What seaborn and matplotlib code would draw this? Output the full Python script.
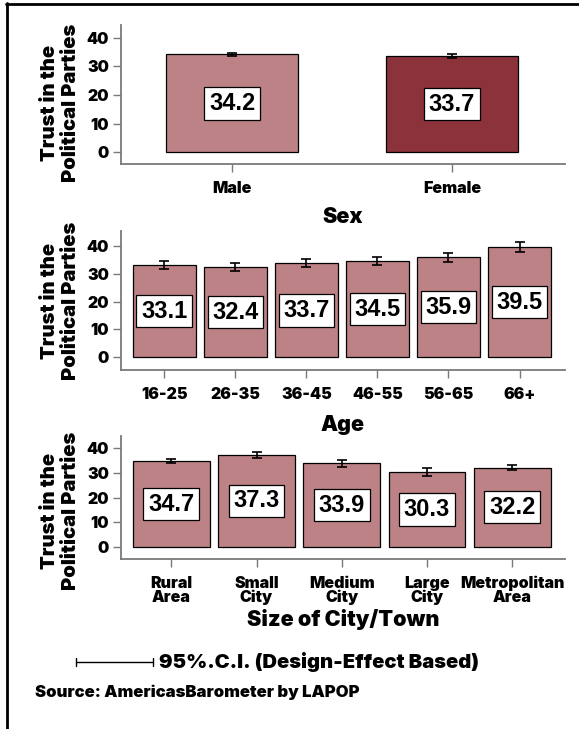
import matplotlib
matplotlib.use("Agg")
import matplotlib.pyplot as plt
from matplotlib import font_manager as fm
from matplotlib.lines import Line2D
import seaborn as sns
import pandas as pd

# Mean trust in political parties with 95% confidence half-widths
sex_labels = ["Male", "Female"]
sex_values = [34.2, 33.7]
sex_ci = [0.6, 0.6]

age_labels = ["16-25", "26-35", "36-45", "46-55", "56-65", "66+"]
age_values = [33.1, 32.4, 33.7, 34.5, 35.9, 39.5]
age_ci = [1.3, 1.3, 1.4, 1.4, 1.6, 1.8]

city_labels = ["Rural\nArea", "Small\nCity", "Medium\nCity", "Large\nCity", "Metropolitan\nArea"]
city_values = [34.7, 37.3, 33.9, 30.3, 32.2]
city_ci = [0.8, 1.35, 1.35, 1.55, 1.15]

y_ticks = [0, 10, 20, 30, 40]
y_title = "Trust in the\nPolitical Parties"

W, H = 579, 729


def heavy_font():
    """Pick an installed extra-heavy sans face, else fall back to DejaVu bold."""
    for fam in ["Inter", "Roboto", "Lato", "Open Sans", "Noto Sans"]:
        for f in fm.fontManager.ttflist:
            w = f.weight if isinstance(f.weight, int) else fm.weight_dict.get(f.weight, 400)
            if f.name == fam and w >= 800 and f.style == "normal":
                return fam, w
    return "DejaVu Sans", "bold"


HEAVY_FAMILY, HEAVY_WEIGHT = heavy_font()

sns.set_style("white")
plt.rcParams["font.family"] = [HEAVY_FAMILY, "DejaVu Sans"]
plt.rcParams["font.weight"] = HEAVY_WEIGHT
for key in ("text.color", "axes.labelcolor", "xtick.labelcolor", "ytick.labelcolor"):
    plt.rcParams[key] = "black"

LIGHT = "#BC8285"
DARK = "#8C323A"
AXIS_GRAY = "#7A7A7A"

fig = plt.figure(figsize=(W / 100, H / 100), dpi=100)


def px_axes(x0, y0, x1, y1):
    return fig.add_axes([x0 / W, 1 - y1 / H, (x1 - x0) / W, (y1 - y0) / H])


def draw_panel(ax, labels, values, ci, width, palette, xlim, ylim,
               ylab_y, xlab, xlab_y):
    df = pd.DataFrame({"group": labels, "value": values})
    sns.barplot(data=df, x="group", y="value", hue="group", palette=palette,
                width=width, edgecolor="black", linewidth=0.9, legend=False,
                errorbar=None, saturation=1, ax=ax)
    ax.errorbar(range(len(values)), values, yerr=ci, fmt="none",
                ecolor="black", elinewidth=1.2, capsize=3.5, capthick=1.2)
    for i, v in enumerate(values):
        ax.text(i, v / 2, f"{v:.1f}", ha="center", va="center", fontsize=17,
                fontweight="bold", family=["Liberation Sans", "DejaVu Sans"],
                color="black",
                bbox=dict(boxstyle="square,pad=0.2", fc="white", ec="black",
                          lw=0.9))
    ax.set_xlim(*xlim)
    ax.set_ylim(*ylim)
    ax.set_yticks(y_ticks)
    for side in ("top", "right"):
        ax.spines[side].set_visible(False)
    for side in ("left", "bottom"):
        ax.spines[side].set_color(AXIS_GRAY)
        ax.spines[side].set_linewidth(1.3)
    ax.tick_params(axis="x", bottom=True, length=6, width=1, color=AXIS_GRAY,
                   labelsize=11.5, pad=6)
    ax.tick_params(axis="y", left=True, length=5.5, width=1, color=AXIS_GRAY,
                   labelsize=11.5, pad=3)
    for lab in ax.get_xticklabels():
        lab.set_linespacing(0.95)
    ax.set_ylabel(y_title, fontsize=14.5, fontweight=HEAVY_WEIGHT, linespacing=1.2)
    ax.yaxis.set_label_coords(-0.137, ylab_y)
    ax.yaxis.label.set_verticalalignment("center")
    ax.set_xlabel(xlab, fontsize=15.5, fontweight=HEAVY_WEIGHT)
    ax.xaxis.set_label_coords(0.5, xlab_y)
    ax.xaxis.label.set_verticalalignment("center")


ax1 = px_axes(121, 25, 565, 164.3)
draw_panel(ax1, sex_labels, sex_values, sex_ci, 0.6, [LIGHT, DARK],
           (-0.505, 1.514), (-4.2, 44.5), 0.44, "Sex", (164.3 - 217) / 139.3)

ax2 = px_axes(121, 230.7, 565, 370)
draw_panel(ax2, age_labels, age_values, age_ci, 0.89, [LIGHT] * 6,
           (-0.61, 5.64), (-4.55, 45.4), 0.495, "Age", (370 - 425) / 139.3)

ax3 = px_axes(121, 435.7, 565, 559)
draw_panel(ax3, city_labels, city_values, city_ci, 0.9, [LIGHT] * 5,
           (-0.59, 4.62), (-4.86, 45.1), 0.39, "Size of City/Town",
           (559 - 619) / 123.3)


def fx(x):
    return x / W


def fy(y):
    return 1 - y / H


# frame lines along the top and left edges
fig.add_artist(Line2D([fx(6), fx(579)], [fy(3.5), fy(3.5)], color="black", lw=2))
fig.add_artist(Line2D([fx(6.5), fx(6.5)], [fy(3), fy(729)], color="black", lw=2))

# confidence-interval key
fig.add_artist(Line2D([fx(76), fx(153)], [fy(662), fy(662)], color="black", lw=1))
for xc in (76, 153):
    fig.add_artist(Line2D([fx(xc), fx(xc)], [fy(658), fy(666)], color="black", lw=1))
fig.text(fx(159), fy(662), "95%.C.I. (Design-Effect Based)", ha="left",
         va="center", fontsize=14.5, fontweight=HEAVY_WEIGHT)
fig.text(fx(35), fy(692), "Source: AmericasBarometer by LAPOP", ha="left",
         va="center", fontsize=12, fontweight=HEAVY_WEIGHT)

fig.savefig("out.png", dpi=100)
